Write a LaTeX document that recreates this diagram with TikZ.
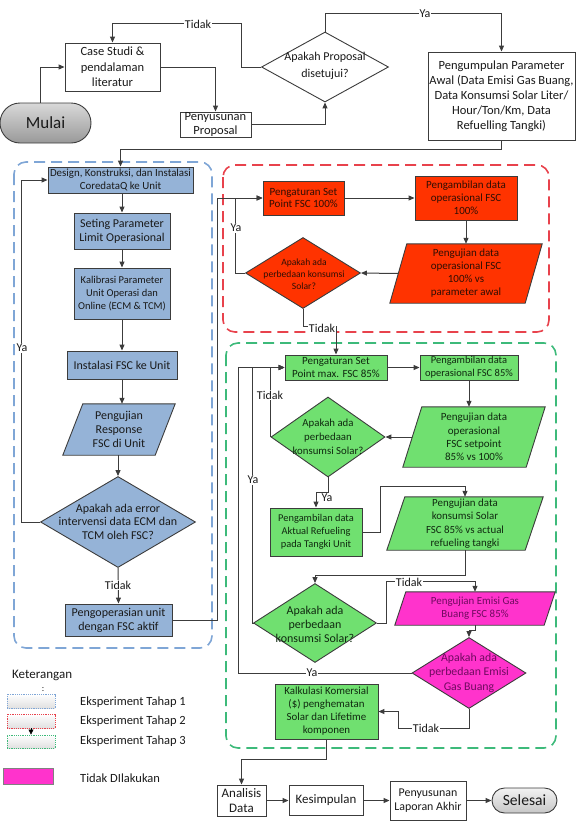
\documentclass[tikz,border=0pt]{standalone}
\usepackage{fontspec}
\setmainfont{Carlito}
\usetikzlibrary{arrows.meta,shapes.geometric,backgrounds}
\newcommand{\myfs}[2]{\fontsize{#1}{#2}\selectfont}
\definecolor{lc}{HTML}{3C3C3C}
\definecolor{tc}{HTML}{1A1A1A}
\definecolor{bluefill}{HTML}{95B3D7}
\definecolor{redfill}{HTML}{FF3300}
\definecolor{greenfill}{HTML}{70E070}
\definecolor{magfill}{HTML}{FF33CC}
\definecolor{rtext}{HTML}{300E04}
\definecolor{gtext}{HTML}{102A10}
\definecolor{mtext}{HTML}{700A60}
\definecolor{fblue}{HTML}{7FA6D6}
\definecolor{fred}{HTML}{E8424C}
\definecolor{fgreen}{HTML}{3DBA7A}
\tikzset{
  base/.style={draw=lc, line width=0.9pt, align=center, inner sep=0pt, text=tc},
  wbox/.style={base, fill=white},
  bbox/.style={base, fill=bluefill},
  rbox/.style={base, fill=redfill, text=rtext},
  gbox/.style={base, fill=greenfill, text=gtext},
  txt/.style={align=center, inner sep=0pt, text=tc},
  dia/.style={diamond, draw=lc, line width=0.9pt, inner sep=0pt},
  arr/.style={draw=lc, line width=1pt, -{Triangle[length=6pt,width=5pt]}},
  lbl/.style={fill=white, inner sep=0.8pt, font=\myfs{12}{14}, text=tc},
  frame/.style={line width=1.6pt, rounded corners=12pt, dash pattern=on 11pt off 6pt},
  legbox/.style={line width=0.9pt, dash pattern=on 1.2pt off 1pt, minimum width=48, minimum height=14, inner sep=0pt, top color=white, bottom color=black!12},
}
\newcommand{\paragram}[3]{%
  \begin{scope}[on background layer]
  \draw[#3] ([xshift=#2]#1.north west) -- (#1.north east) -- ([xshift=-#2]#1.south east) -- (#1.south west) -- cycle;
  \end{scope}}
\begin{document}
\begin{tikzpicture}[x=1pt,y=-1pt]
\useasboundingbox (0,0) rectangle (576,836);
% frames
\begin{scope}[on background layer]
\draw[frame, draw=fblue] (14,162) rectangle (212,648);
\draw[frame, draw=fred] (223,165) rectangle (549,332);
\draw[frame, draw=fgreen] (226,343) rectangle (556,748);
\end{scope}

% top
\node[base, minimum width=91, minimum height=40, rounded corners=20pt, top color=black!15, bottom color=black!40, font=\myfs{17}{20}] (mulai) at (45.5,123) {Mulai};
\node[wbox, minimum width=95, minimum height=48, font=\myfs{12.5}{15.5}] (case) at (112.5,67) {Case Studi \&\\pendalaman\\literatur};
\node[wbox, minimum width=71, minimum height=25, font=\myfs{12.5}{14}] (peny) at (215.5,124.5) {Penyusunan\\Proposal};
\node[dia, fill=white, minimum width=127, minimum height=70] (dprop) at (325,67) {};
\node[txt, font=\myfs{12}{17}] (dpropT) at (325,66) {Apakah Proposal\\disetujui?};
\node[wbox, minimum width=147, minimum height=88, font=\myfs{12.5}{15}] (peng) at (501.5,96) {Pengumpulan Parameter\\Awal (Data Emisi Gas Buang,\\Data Konsumsi Solar Liter/\\Hour/Ton/Km, Data\\Refuelling Tangki)};

% blue column
\node[bbox, minimum width=145, minimum height=26, font=\myfs{10.9}{13}] (design) at (120.5,180) {Design, Konstruksi, dan Instalasi\\CoredataQ ke Unit};
\node[bbox, minimum width=96, minimum height=36, font=\myfs{12}{14}] (seting) at (122,231) {Seting Parameter\\Limit Operasional};
\node[bbox, minimum width=96, minimum height=51, font=\myfs{10.5}{13}] (kalib) at (122,293.5) {Kalibrasi Parameter\\Unit Operasi dan\\Online (ECM \& TCM)};
\node[bbox, minimum width=110, minimum height=28, font=\myfs{12}{14}] (instal) at (122,365) {Instalasi FSC ke Unit};
\node[txt, minimum width=112, minimum height=51, font=\myfs{12}{14}] (resp) at (119,429.5) {Pengujian\\Response\\FSC di Unit};
\paragram{resp}{20pt}{draw=lc, line width=0.9pt, fill=bluefill}
\node[dia, fill=bluefill, minimum width=155, minimum height=91] (derr) at (118,522) {};
\node[txt, font=\myfs{12}{13.5}] (derrT) at (118,521.5) {Apakah ada error\\intervensi data ECM dan\\TCM oleh FSC?};
\node[bbox, minimum width=107, minimum height=32, font=\myfs{12}{14}] (opr) at (118.5,620) {Pengoperasian unit\\dengan FSC aktif};

% red
\node[rbox, minimum width=81, minimum height=34, font=\myfs{11}{12.5}] (sp100) at (303.5,198) {Pengaturan Set\\Point FSC 100\%};
\node[rbox, minimum width=102, minimum height=44, font=\myfs{11}{13}] (amb100) at (466,198) {Pengambilan data\\operasional FSC\\100\%};
\node[txt, text=rtext, minimum width=152, minimum height=59, font=\myfs{11}{13}] (uji100) at (466,273.5) {Pengujian data\\operasional FSC\\100\% vs\\parameter awal};
\paragram{uji100}{17pt}{draw=lc, line width=0.9pt, fill=redfill}
\node[dia, fill=redfill, minimum width=115, minimum height=71] (dred) at (303,273) {};
\node[txt, text=rtext, font=\myfs{9.6}{12}] (dredT) at (304,274) {Apakah ada\\perbedaan konsumsi\\Solar?};

% green
\node[gbox, minimum width=102, minimum height=25, font=\myfs{11}{13}] (sg85) at (336,367.5) {Pengaturan Set\\Point max. FSC 85\%};
\node[gbox, minimum width=98, minimum height=25, font=\myfs{10.5}{13}] (ag85) at (469,367.5) {Pengambilan data\\operasional FSC 85\%};
\node[txt, text=gtext, minimum width=142, minimum height=60, font=\myfs{11}{13.3}] (ug85) at (474,437) {Pengujian data\\operasional\\FSC setpoint\\85\% vs 100\%};
\paragram{ug85}{19pt}{draw=lc, line width=0.9pt, fill=greenfill}
\node[dia, fill=greenfill, minimum width=114, minimum height=80] (dg1) at (328,437) {};
\node[txt, text=gtext, font=\myfs{10.8}{14}] (dg1T) at (328,437) {Apakah ada\\perbedaan\\konsumsi Solar?};
\node[gbox, minimum width=92, minimum height=48, font=\myfs{10.4}{13}] (akt) at (316,532) {Pengambilan data\\Aktual Refueling\\pada Tangki Unit};
\node[txt, text=gtext, minimum width=156, minimum height=53, font=\myfs{10.9}{13.3}] (ug2) at (465,523.5) {Pengujian data\\konsumsi Solar\\FSC 85\% vs actual\\refueling tangki};
\paragram{ug2}{18pt}{draw=lc, line width=0.9pt, fill=greenfill}
\node[dia, fill=greenfill, minimum width=123, minimum height=79] (dg2) at (315,623) {};
\node[txt, text=gtext, font=\myfs{12}{14}] (dg2T) at (315,624) {Apakah ada\\perbedaan\\konsumsi Solar?};
\node[txt, text=mtext, minimum width=160, minimum height=33, font=\myfs{10.9}{12.7}] (emis) at (475,608.5) {Pengujian Emisi Gas\\Buang FSC 85\%};
\paragram{emis}{11pt}{draw=lc, line width=0.9pt, fill=magfill}
\node[dia, fill=magfill, minimum width=114, minimum height=71] (dm) at (469,673) {};
\node[txt, text=mtext, font=\myfs{11.8}{14.5}] (dmT) at (469,672.5) {Apakah ada\\perbedaan Emisi\\Gas Buang};
\node[gbox, minimum width=103, minimum height=55, font=\myfs{10.9}{13}] (kalk) at (326.5,711.5) {Kalkulasi Komersial\\(\$) penghematan\\Solar dan Lifetime\\komponen};

% bottom
\node[wbox, minimum width=49, minimum height=31, font=\myfs{13}{15}] (ana) at (241.5,800.5) {Analisis\\Data};
\node[wbox, minimum width=74, minimum height=30, font=\myfs{12.9}{15}] (kes) at (326,800.5) {Kesimpulan};
\node[wbox, minimum width=76, minimum height=39, font=\myfs{11.9}{14.5}] (lap) at (428,800.5) {Penyusunan\\Laporan Akhir};
\node[base, minimum width=65, minimum height=25, rounded corners=12.5pt, top color=black!5, bottom color=black!22, font=\myfs{15.6}{18}] (sel) at (524.5,800.5) {Selesai};

% legend
\node[txt, anchor=west, font=\myfs{13}{15}] (keter) at (12,675) {Keterangan};
\node[txt, font=\myfs{9}{10}] (colon) at (43,690) {:};
\node[legbox, draw=fblue] (leg1) at (31,701) {};
\node[legbox, draw=fred] (leg2) at (31,721) {};
\node[legbox, draw=fgreen, minimum height=13] (leg3) at (31,741.5) {};
\draw[draw=black, line width=0.6pt, -{Triangle[length=5pt,width=5pt]}] (leg2.south) -- (leg3.north);
\node[txt, anchor=west, font=\myfs{12.5}{15}] (leg1T) at (80,702) {Eksperiment Tahap 1};
\node[txt, anchor=west, font=\myfs{12.5}{15}] (leg2T) at (80,721) {Eksperiment Tahap 2};
\node[txt, anchor=west, font=\myfs{12.5}{15}] (leg3T) at (80,741) {Eksperiment Tahap 3};
\node[base, fill=magfill, draw=black!50, minimum width=50, minimum height=16] (legm) at (28,776) {};
\node[txt, anchor=west, font=\myfs{12.5}{15}] (legmT) at (80,778) {Tidak DIlakukan};

% connectors top
\draw[arr] ([xshift=-5.5pt]mulai.north) |- (case.west);
\draw[arr] (case.east) -| (peny.north);
\draw[arr] (peny.east) -| (dprop.south);
\draw[arr] (dprop.west) -- ++(-20,0) |- ([yshift=19pt]case.north) -- (case.north);
\draw[arr] (dprop.north) |- ([yshift=38pt]peng.north) -- (peng.north);
\draw[arr] (peng.south) -- ++(0,9) -| (design.north);
% blue
\draw[arr] (design.south -| seting.north) -- (seting.north);
\draw[arr] (seting.south) -- (kalib.north);
\draw[arr] (kalib.south) -- (instal.north);
\draw[arr] (instal.south) -- (instal.south |- resp.north);
\draw[arr] (resp.south -| derr.north) -- (derr.north);
\draw[arr] (derr.south) -- (opr.north);
\draw[arr] (derr.west) -| ([xshift=-26pt]design.west) -- (design.west);
\draw[arr] (opr.east) -- ++(45,0) |- (sp100.west);
% red
\draw[arr] (sp100.east) -- (amb100.west);
\draw[arr] (amb100.south) -- (uji100.north);
\draw[arr] ([xshift=8.5pt]uji100.west) -- (dred.east);
\draw[arr] (dred.west) -| ([xshift=-27pt]sp100.west) -- (sp100.west);
\draw[arr] (dred.south) |- ([yshift=28pt]sg85.north) -- (sg85.north);
% green
\draw[arr] (sg85.east) -- (ag85.west);
\draw[arr] (ag85.south) -- (ag85.south |- ug85.north);
\draw[arr] ([xshift=9.5pt]ug85.west) -- (dg1.east);
\draw[arr] (dg1.west) |- (sg85.west);
\draw[arr] (dg1.south) -- ++(0,15) -| (akt.north);
\draw[arr] (akt.east) -- ++(18,0) |- ([yshift=10pt]ug2.north) -- (ug2.north);
\draw[arr] (ug2.south) -- ++(0,25) -| (dg2.north);
\draw[arr] (dg2.west) -| ([xshift=-32pt]sg85.west) -- (sg85.west);
\draw[arr] (dg2.east) -- ++(10,0) |- ([yshift=10pt]emis.north) -- (emis.north);
\draw[arr] (emis.south) -- ++(0,5) -| (dm.north);
\draw[arr] (dm.west) -| ([xshift=-46pt]sg85.west) -- (sg85.west);
\draw[arr] (dm.south) -- ++(0,20) -| ([xshift=20pt]kalk.east) -- (kalk.east);
\draw[arr] (kalk.south) -- ++(0,20) -| (ana.north);
% bottom
\draw[arr] (ana.east) -- (kes.west);
\draw[arr] (kes.east) -- (lap.west);
\draw[arr] (lap.east) -- (sel.west);

% labels
\node[lbl] (lt1) at (198,24) {Tidak};
\node[lbl] (ly1) at (425,14) {Ya};
\node[lbl] (lt2) at (118,585) {Tidak};
\node[lbl] (ly2) at (22,348) {Ya};
\node[lbl] (ly3) at (236,228) {Ya};
\node[lbl] (lt3) at (322,328) {Tidak};
\node[lbl] (lt4) at (270,395) {Tidak};
\node[lbl, fill=none] (ly4) at (327,498) {Ya};
\node[lbl] (ly5) at (253,480) {Ya};
\node[lbl] (lt5) at (409,582) {Tidak};
\node[lbl] (ly6) at (312,673) {Ya};
\node[lbl] (lt6) at (426,728) {Tidak};
\end{tikzpicture}
\end{document}
